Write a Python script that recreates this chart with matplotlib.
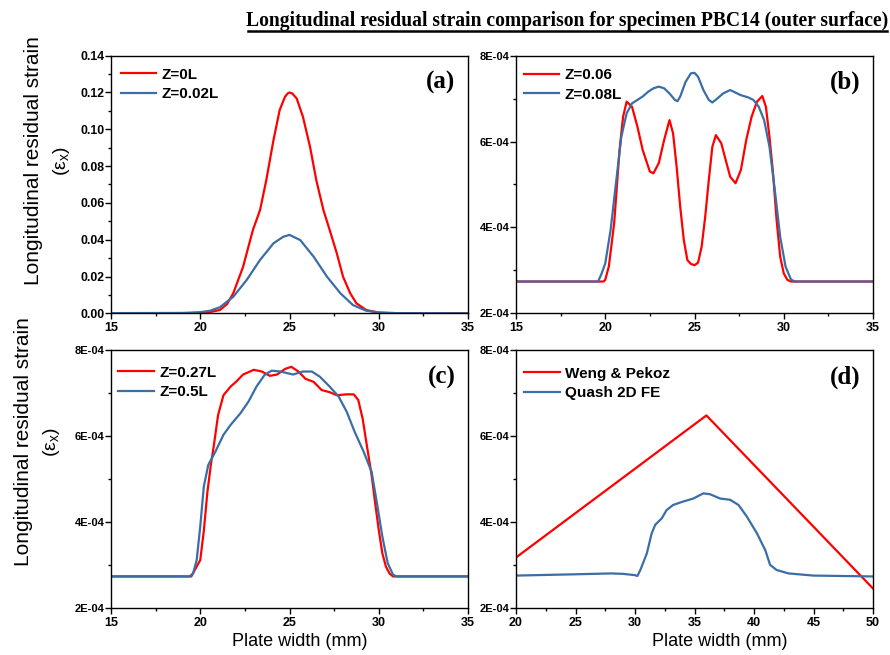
import matplotlib
matplotlib.use("Agg")
import matplotlib.pyplot as plt
from matplotlib.lines import Line2D
from matplotlib.ticker import MultipleLocator

plt.rcParams["font.family"] = ["Liberation Sans", "DejaVu Sans"]

TITLE = "Longitudinal residual strain comparison for specimen PBC14 (outer surface)"
RED = "#ff0000"
BLUE = "#3a6ea5"
SCALE = 1e-4

# panel (a): strain, plate width 15-35 mm
A_X_RED = [15, 19, 20, 20.5, 21.1, 21.5, 21.85, 22.4, 22.95, 23.35, 23.7, 24.1, 24.45, 24.75,
           24.9, 25.0, 25.15, 25.4, 25.75, 26.15, 26.5, 26.9, 27.25, 27.65, 28.0, 28.4, 28.75,
           29.3, 30, 31, 35]
A_Y_RED = [0, 0, 0.0002, 0.0006, 0.0018, 0.005, 0.0109, 0.0253, 0.0453, 0.0561, 0.0724, 0.094,
           0.1105, 0.1177, 0.1195, 0.1200, 0.1195, 0.1168, 0.1069, 0.0905, 0.0724, 0.0561, 0.0453,
           0.0326, 0.0199, 0.0109, 0.0054, 0.0018, 0.0003, 0, 0]
A_X_BLUE = [15, 19, 20, 20.55, 21.1, 21.85, 22.6, 23.35, 24.1, 24.65, 25.0, 25.6, 26.35, 27.1,
            27.85, 28.55, 29.3, 30, 31, 35]
A_Y_BLUE = [0.0001, 0.0002, 0.0006, 0.0014, 0.0033, 0.009, 0.0181, 0.029, 0.038, 0.0416, 0.0426,
            0.0398, 0.0308, 0.0199, 0.0109, 0.0045, 0.0014, 0.0005, 0.0001, 0.0]

# panel (b): values in units of 1e-4
B_X_RED = [15, 19.9, 20.0, 20.2, 20.5, 20.8, 21.0, 21.2, 21.5, 21.8, 22.1, 22.5, 22.7, 23.0, 23.3,
           23.6, 23.8, 24.0, 24.2, 24.4, 24.6, 24.8, 25.0, 25.2, 25.4, 25.6, 25.8, 26.0, 26.2,
           26.5, 26.8, 27.0, 27.3, 27.6, 27.9, 28.2, 28.5, 28.8, 29.0, 29.2, 29.4, 29.6, 29.8,
           30.0, 30.2, 30.4, 35]
B_Y_RED = [2.74, 2.74, 2.78, 3.09, 4.1, 5.8, 6.58, 6.93, 6.81, 6.35, 5.80, 5.30, 5.26, 5.5, 6.04,
           6.50, 6.19, 5.41, 4.48, 3.71, 3.24, 3.15, 3.12, 3.18, 3.55, 4.25, 5.10, 5.88, 6.15,
           5.96, 5.49, 5.18, 5.03, 5.34, 6.04, 6.58, 6.93, 7.06, 6.81, 6.11, 5.26, 4.17, 3.32,
           2.93, 2.78, 2.74, 2.74]
B_X_BLUE = [15, 19.6, 19.8, 20.0, 20.3, 20.6, 20.9, 21.2, 21.5, 21.8, 22.1, 22.4, 22.7, 23.0,
            23.3, 23.6, 23.9, 24.05, 24.2, 24.5, 24.8, 25.0, 25.2, 25.5, 25.8, 26.0, 26.3, 26.6,
            27.0, 27.3, 27.6, 28.0, 28.3, 28.6, 28.9, 29.2, 29.5, 29.8, 30.1, 30.4, 30.6, 35]
B_Y_BLUE = [2.74, 2.74, 2.93, 3.16, 3.94, 5.03, 6.11, 6.66, 6.89, 6.97, 7.05, 7.16, 7.24, 7.28,
            7.24, 7.12, 6.97, 6.94, 7.05, 7.39, 7.59, 7.60, 7.51, 7.20, 6.97, 6.91, 7.01, 7.12,
            7.20, 7.14, 7.08, 7.03, 6.97, 6.81, 6.50, 5.88, 4.87, 3.78, 3.09, 2.79, 2.74, 2.74]

# panel (c)
C_X_RED = [15, 19.5, 19.8, 20.0, 20.2, 20.4, 20.6, 20.75, 21.0, 21.3, 21.7, 22.0, 22.4, 23.0,
           23.45, 23.9, 24.3, 24.75, 25.1, 25.5, 25.9, 26.35, 26.8, 27.25, 27.65, 28.2, 28.6,
           28.85, 29.1, 29.3, 29.6, 29.8, 30.0, 30.2, 30.4, 30.6, 30.8, 35]
C_Y_RED = [2.74, 2.74, 2.97, 3.12, 3.8, 4.7, 5.35, 5.75, 6.49, 6.95, 7.15, 7.26, 7.43, 7.54,
           7.50, 7.40, 7.43, 7.56, 7.61, 7.50, 7.33, 7.26, 7.07, 7.02, 6.95, 6.97, 6.97, 6.84,
           6.40, 5.87, 5.09, 4.44, 3.82, 3.28, 2.97, 2.81, 2.74, 2.74]
C_X_BLUE = [15, 19.4, 19.6, 19.8, 20.0, 20.2, 20.45, 20.85, 21.3, 21.7, 22.25, 22.7, 23.15,
            23.6, 24.0, 24.5, 25.2, 25.75, 26.25, 26.7, 27.25, 27.75, 28.2, 28.65, 29.15, 29.6,
            29.9, 30.2, 30.5, 30.8, 31.0, 35]
C_Y_BLUE = [2.74, 2.74, 2.81, 3.12, 3.90, 4.83, 5.33, 5.64, 6.03, 6.26, 6.53, 6.80, 7.15, 7.42,
            7.52, 7.50, 7.43, 7.50, 7.50, 7.38, 7.15, 6.92, 6.57, 6.10, 5.64, 5.17, 4.44, 3.67,
            3.05, 2.78, 2.74, 2.74]

# panel (d): plate width 20-50 mm
D_X_RED = [20, 36, 50]
D_Y_RED = [3.18, 6.48, 2.46]
D_X_BLUE = [20, 25, 28, 29, 30, 30.2, 30.45, 31.0, 31.4, 31.7, 32.25, 32.65, 33.2, 34.05, 34.9,
            35.75, 36.3, 37.15, 38.0, 38.7, 39.4, 40.25, 40.95, 41.35, 41.9, 42.9, 45, 50]
D_Y_BLUE = [2.76, 2.79, 2.81, 2.80, 2.77, 2.75, 2.89, 3.28, 3.74, 3.94, 4.09, 4.28, 4.40, 4.48,
            4.55, 4.67, 4.65, 4.55, 4.52, 4.40, 4.13, 3.74, 3.35, 3.01, 2.89, 2.81, 2.76, 2.74]

E_TICKS = [2, 4, 6, 8]
E_LABELS = ["2E-04", "4E-04", "6E-04", "8E-04"]

PANELS = [
    ("(a)", A_X_RED, A_Y_RED, A_X_BLUE, A_Y_BLUE, 1.0, ["Z=0L", "Z=0.02L"], (15, 35)),
    ("(b)", B_X_RED, B_Y_RED, B_X_BLUE, B_Y_BLUE, SCALE, ["Z=0.06", "Z=0.08L"], (15, 35)),
    ("(c)", C_X_RED, C_Y_RED, C_X_BLUE, C_Y_BLUE, SCALE, ["Z=0.27L", "Z=0.5L"], (15, 35)),
    ("(d)", D_X_RED, D_Y_RED, D_X_BLUE, D_Y_BLUE, SCALE, ["Weng & Pekoz", "Quash 2D FE"], (20, 50)),
]

W, H = 890, 655
BOXES = [(111, 55.7, 468, 313.3), (516, 55.7, 873, 313.3),
         (111, 350, 468, 608.3), (516, 350, 873, 608.3)]
# legend offset from the axes' upper-left corner, pixels
LEG_OFFSETS = [(5, 7.5), (3, 8), (2.5, 11), (3.5, 12)]

fig = plt.figure(figsize=(W / 100, H / 100), dpi=100)

for (letter, xr, yr, xb, yb, sc, labels, xlim), (l, t, r, b), (dx, dy) in zip(
        PANELS, BOXES, LEG_OFFSETS):
    ax = fig.add_axes([l / W, 1 - b / H, (r - l) / W, (b - t) / H])
    ax.plot(xr, [v * sc for v in yr], color=RED, lw=1.6, label=labels[0])
    ax.plot(xb, [v * sc for v in yb], color=BLUE, lw=1.6, label=labels[1])
    ax.set_xlim(*xlim)
    ax.xaxis.set_major_locator(MultipleLocator(5))
    ax.xaxis.set_minor_locator(MultipleLocator(2.5))
    if sc == 1.0:
        ax.set_ylim(0, 0.14)
        ax.yaxis.set_major_locator(MultipleLocator(0.02))
        ax.yaxis.set_minor_locator(MultipleLocator(0.01))
        ax.yaxis.set_major_formatter(plt.FormatStrFormatter("%.2f"))
        ysize = 8.8
    else:
        ax.set_ylim(2 * SCALE, 8 * SCALE)
        ax.set_yticks([v * SCALE for v in E_TICKS])
        ax.set_yticklabels(E_LABELS)
        ax.yaxis.set_minor_locator(MultipleLocator(SCALE))
        ysize = 8
    ax.tick_params(which="both", direction="out", top=False, right=False, width=1)
    ax.tick_params(which="major", length=4, pad=1.5)
    ax.tick_params(which="minor", length=2.5)
    ax.tick_params(axis="x", labelsize=9, pad=2)
    ax.tick_params(axis="y", labelsize=ysize, pad=0.5)
    for lab in ax.get_xticklabels() + ax.get_yticklabels():
        lab.set_fontweight("bold")
    for sp in ax.spines.values():
        sp.set_linewidth(1.0)
    ax.legend(loc="upper left", frameon=False, prop={"weight": "bold", "size": 11},
              handlelength=2.35, handletextpad=0.33, labelspacing=0.36,
              borderaxespad=0, borderpad=0.3,
              bbox_to_anchor=(dx / (r - l), 1 - dy / (b - t)))
    ax.text(0.965, 0.895, letter, transform=ax.transAxes, ha="right", va="center",
            fontsize=18, fontweight="bold", family="Liberation Serif")

# y labels
for x1, x2, yc in [(34, 62, 161), (24, 51, 442)]:
    fig.text(x1 / W, 1 - yc / H, "Longitudinal residual strain", rotation=90,
             ha="center", va="center", fontsize=15)
    fig.text(x2 / W, 1 - yc / H, "(ε$_{\\mathregular{x}}$)", rotation=90,
             ha="center", va="center", fontsize=14)

# x labels
for xc in (300, 720):
    fig.text(xc / W, 1 - 642 / H, "Plate width (mm)", ha="center", va="center", fontsize=13)

fig.text(567.5 / W, 1 - 26 / H, TITLE, ha="center", va="baseline", fontsize=14.1,
         fontweight="bold", family="Liberation Serif")
fig.add_artist(Line2D([248 / W, 887 / W], [1 - 30.7 / H] * 2, color="black", lw=1.8,
                      transform=fig.transFigure))

fig.savefig("out.png", dpi=100)
